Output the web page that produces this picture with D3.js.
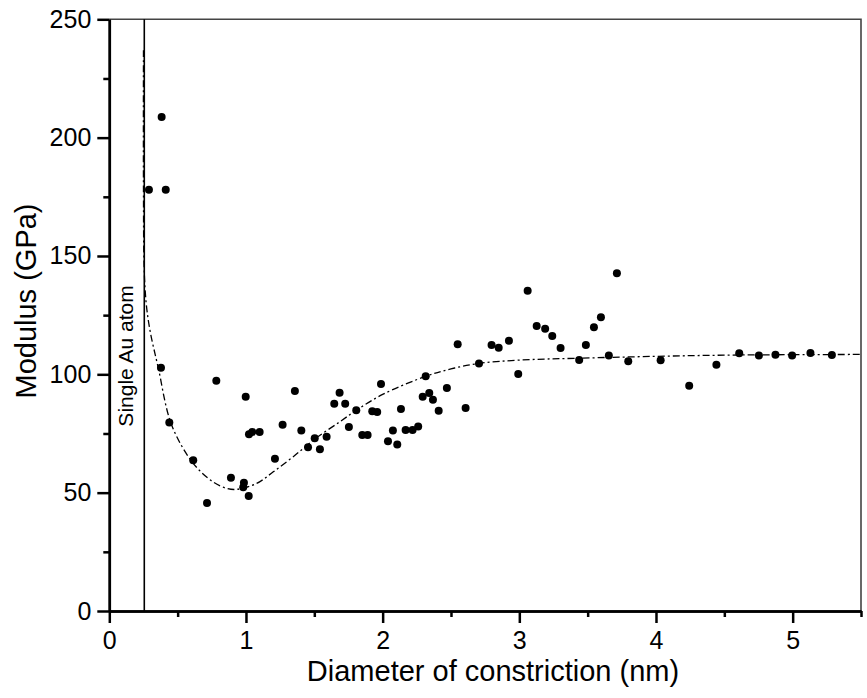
<!DOCTYPE html>
<html lang="en">
<head>
  <meta charset="UTF-8">
  <title>Modulus vs diameter of constriction</title>
  <script src="https://d3js.org/d3.v7.min.js"></script>
  <style>
    body {
      margin: 0;
      padding: 0;
      background: #fff;
      font-family: 'Liberation Sans', Arial, Helvetica, sans-serif;
    }
    .axis text {
      font-size: 25px;
      fill: #000;
      font-family: 'Liberation Sans', Arial, sans-serif;
    }
    .axis .domain { stroke: #000; stroke-width: 2.5px; }
    .axis line { stroke: #000; stroke-width: 2.5px; }
    .frame { stroke: #444; stroke-width: 1.6px; fill: none; }
    .fit { fill: none; stroke: #000; stroke-width: 1.3px; stroke-dasharray: 7,3,2,3; }
    .dot { fill: #000; }
  </style>
</head>
<body>
<svg id="chart" width="867" height="698"></svg>
<script>
  // measured points: diameter (nm) and modulus (GPa)
  const diameter = [
    0.383, 0.290, 0.413, 0.378, 0.783, 0.998, 1.358, 1.685, 1.646, 1.726,
    0.439, 1.268, 1.405, 1.022, 1.046, 1.100, 1.503, 1.590, 1.454, 1.541,
    1.753, 0.614, 1.212, 0.890, 0.985, 0.980, 1.020, 0.715, 2.549, 2.797,
    2.849, 2.924, 2.705, 2.992, 2.315, 1.988, 2.470, 2.341, 2.293, 2.368,
    2.410, 2.607, 1.807, 1.924, 1.960, 2.134, 1.851, 1.890, 2.075, 2.168,
    2.219, 2.260, 2.039, 2.107, 3.061, 3.714, 3.127, 3.189, 3.241, 3.302,
    3.597, 3.546, 3.487, 3.438, 3.655, 3.797, 4.034, 4.243, 4.442, 4.609,
    4.753, 4.874, 4.996, 5.130, 5.287
  ];
  const modulus = [
    208.7, 178.0, 178.0, 102.8, 97.3, 90.5, 92.9, 92.2, 87.6, 87.6,
    79.6, 78.7, 76.3, 74.7, 75.6, 75.6, 73.0, 73.6, 69.2, 68.3,
    77.7, 63.7, 64.3, 56.3, 54.2, 52.3, 48.6, 45.6, 112.7, 112.4,
    111.2, 114.2, 104.6, 100.1, 99.2, 95.9, 94.2, 92.1, 90.5, 89.3,
    84.6, 85.8, 84.8, 84.4, 84.1, 85.3, 74.4, 74.4, 76.3, 76.5,
    76.5, 78.0, 71.7, 70.4, 135.3, 142.7, 120.4, 119.3, 116.2, 111.1,
    124.1, 119.9, 112.4, 106.0, 108.0, 105.5, 105.9, 95.2, 104.0, 108.9,
    107.9, 108.3, 107.9, 109.0, 108.2
  ];

  // fitted curve
  const fitX = [0.250, 0.250, 0.255, 0.270, 0.298, 0.358, 0.456, 0.614, 0.760, 0.859,
                0.932, 1.078, 1.200, 1.346, 1.500, 1.688, 1.810, 2.000, 2.322, 2.500,
                2.705, 3.000, 3.431, 4.000, 4.500, 5.000, 5.500];
  const fitY = [236.9, 178.0, 145.0, 130.0, 118.5, 102.8, 78.6, 62.4, 54.5, 51.8,
                51.4, 53.9, 58.8, 65.2, 72.5, 80.0, 84.9, 91.5, 99.3, 102.3,
                104.6, 106.0, 106.8, 107.6, 108.1, 108.3, 108.4];

  const singleAtomX = 0.256;
  const xTicks = [0, 1, 2, 3, 4, 5];
  const xMinor = [0.5, 1.5, 2.5, 3.5, 4.5, 5.5];
  const yTicks = [0, 50, 100, 150, 200, 250];
  const yMinor = [25, 75, 125, 175, 225];

  const plotLeft = 109.3, plotRight = 861, plotTop = 19.3, plotBottom = 611;

  const svg = d3.select("#chart");

  const x = d3.scaleLinear().domain([0, 5.5]).range([plotLeft, plotRight]);
  const y = d3.scaleLinear().domain([0, 250]).range([plotBottom, plotTop]);

  // frame (top and right)
  svg.append("path")
    .attr("class", "frame")
    .attr("d", `M${plotLeft},${plotTop}H${plotRight}V${plotBottom}`);

  // single atom marker line
  svg.append("line")
    .attr("x1", x(singleAtomX)).attr("x2", x(singleAtomX))
    .attr("y1", plotTop).attr("y2", plotBottom)
    .attr("stroke", "#000")
    .attr("stroke-width", 1.6);

  svg.append("text")
    .attr("transform", `translate(132.6,356) rotate(-90)`)
    .attr("text-anchor", "middle")
    .style("font-size", "21px")
    .text("Single Au atom");

  // axes
  svg.append("g")
    .attr("class", "axis")
    .attr("transform", `translate(0,${plotBottom})`)
    .call(d3.axisBottom(x).tickValues(xMinor).tickSize(6).tickSizeOuter(0).tickFormat(""));

  svg.append("g")
    .attr("class", "axis")
    .attr("transform", `translate(0,${plotBottom})`)
    .call(d3.axisBottom(x).tickValues(xTicks).tickSize(12).tickSizeOuter(0).tickPadding(8).tickFormat(d3.format("d")));

  svg.append("g")
    .attr("class", "axis")
    .attr("transform", `translate(${plotLeft},0)`)
    .call(d3.axisLeft(y).tickValues(yMinor).tickSize(6).tickSizeOuter(0).tickFormat(""));

  svg.append("g")
    .attr("class", "axis")
    .attr("transform", `translate(${plotLeft},0)`)
    .call(d3.axisLeft(y).tickValues(yTicks).tickSize(12).tickSizeOuter(0).tickPadding(6).tickFormat(d3.format("d")));

  // fit curve
  const fitData = fitX.map((v, i) => [v, fitY[i]]);
  svg.append("path")
    .datum(fitData)
    .attr("class", "fit")
    .attr("d", d3.line().x(d => x(d[0])).y(d => y(d[1])).curve(d3.curveCatmullRom.alpha(0.5)));

  // data points
  svg.selectAll(".dot")
    .data(diameter.map((v, i) => [v, modulus[i]]))
    .enter().append("circle")
    .attr("class", "dot")
    .attr("cx", d => x(d[0]))
    .attr("cy", d => y(d[1]))
    .attr("r", 4);

  // axis titles
  svg.append("text")
    .attr("x", 493)
    .attr("y", 680.5)
    .attr("text-anchor", "middle")
    .style("font-size", "29px")
    .text("Diameter of constriction (nm)");

  svg.append("text")
    .attr("transform", "translate(36,301) rotate(-90)")
    .attr("text-anchor", "middle")
    .style("font-size", "29px")
    .text("Modulus (GPa)");
</script>
</body>
</html>
